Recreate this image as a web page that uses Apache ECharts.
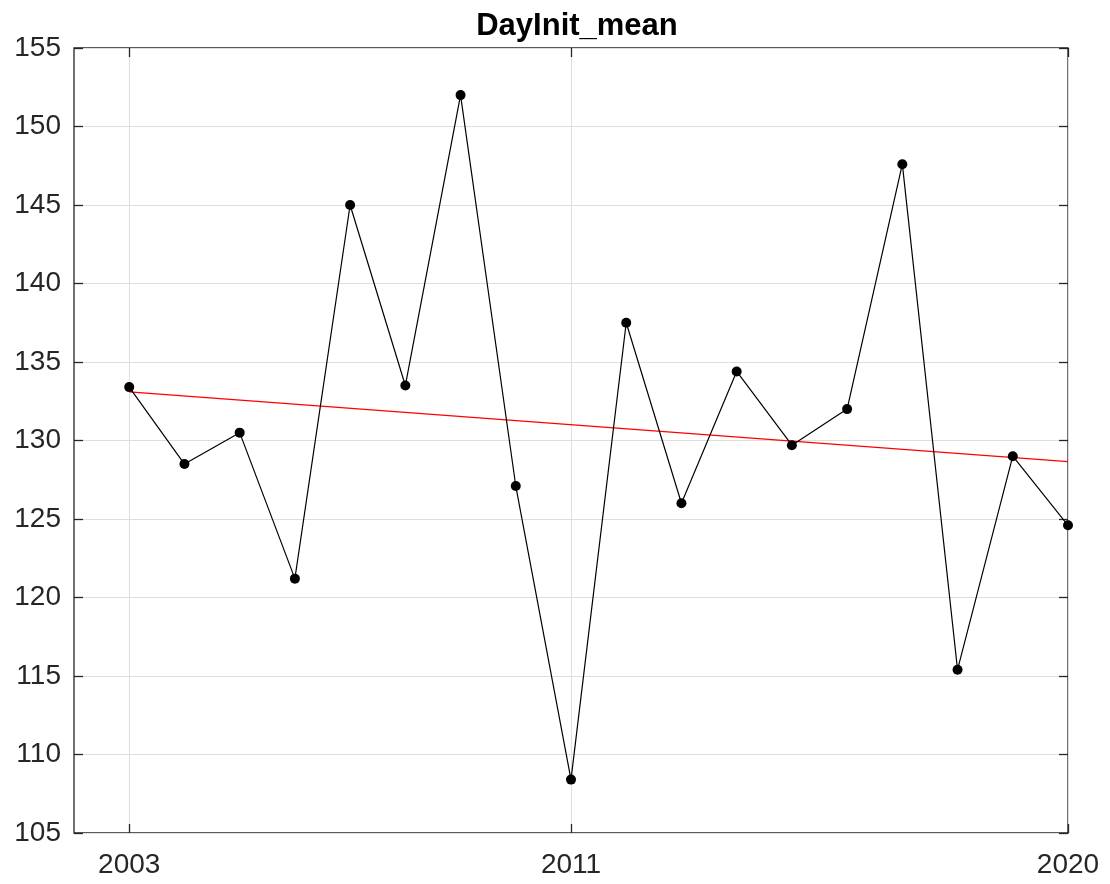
<!DOCTYPE html>
<html>
<head>
<meta charset="utf-8">
<script src="https://cdn.jsdelivr.net/npm/echarts@6/dist/echarts.min.js"></script>
<style>
html,body{margin:0;padding:0;background:#fff;}
#chart{width:1110px;height:884px;}
</style>
</head>
<body>
<div id="chart"></div>
<script>
var years = [2003,2004,2005,2006,2007,2008,2009,2010,2011,2012,2013,2014,2015,2016,2017,2018,2019,2020];
var dayInitMean = [133.4,128.5,130.5,121.2,145.0,133.5,152.0,127.1,108.4,137.5,126.0,134.4,129.7,132.0,147.6,115.4,129.0,124.6];
var trendYears = [2003, 2020];
var trendValues = [133.1, 128.65];
var xTicks = [2003, 2011, 2020];

var chart = echarts.init(document.getElementById('chart'));
var axisCol = '#262626';
var font = 'Liberation Sans, Arial, sans-serif';

var option = {
    animation: false,
    title: {
        text: 'DayInit_mean',
        left: 572, top: 6, textAlign: 'center',
        textStyle: {fontFamily: font, fontSize: 31, fontWeight: 'bold', color: '#000'}
    },
    grid: {left: 74, right: 42, top: 48, bottom: 51, show: true, borderColor: axisCol, borderWidth: 1.3, backgroundColor: '#fff'},
    xAxis: [{
        type: 'value', min: 2002, max: 2020,
        axisLine: {show: false},
        axisTick: {show: true, inside: true, length: 9, customValues: xTicks, lineStyle: {color: axisCol, width: 1.3}},
        axisLabel: {
            customValues: xTicks, fontFamily: font, fontSize: 28, color: axisCol, margin: 18,
            formatter: function (v) { return String(v); }
        },
        splitLine: {show: true, lineStyle: {color: '#dedede', width: 1}}
    }, {
        type: 'value', min: 2002, max: 2020, position: 'top',
        axisLine: {show: false},
        axisTick: {show: true, inside: true, length: 9, customValues: xTicks, lineStyle: {color: axisCol, width: 1.3}},
        axisLabel: {show: false},
        splitLine: {show: false}
    }],
    yAxis: [{
        type: 'value', min: 105, max: 155, interval: 5,
        axisLine: {show: false},
        axisTick: {show: true, inside: true, length: 9, lineStyle: {color: axisCol, width: 1.3}},
        axisLabel: {fontFamily: font, fontSize: 28, color: axisCol, margin: 13, padding: [6, 0, 0, 0]},
        splitLine: {show: true, lineStyle: {color: '#dedede', width: 1}}
    }, {
        type: 'value', min: 105, max: 155, interval: 5, position: 'right',
        axisLine: {show: false},
        axisTick: {show: true, inside: true, length: 9, lineStyle: {color: axisCol, width: 1.3}},
        axisLabel: {show: false},
        splitLine: {show: false}
    }],
    series: [{
        type: 'line',
        data: years.map(function (y, i) { return [y, dayInitMean[i]]; }),
        symbol: 'circle', symbolSize: 10,
        itemStyle: {color: '#000'},
        lineStyle: {color: '#000', width: 1.2},
        z: 3
    }, {
        type: 'line',
        data: trendYears.map(function (y, i) { return [y, trendValues[i]]; }),
        symbol: 'none',
        lineStyle: {color: '#ff0000', width: 1.3},
        z: 2
    }]
};
chart.setOption(option);
</script>
</body>
</html>
